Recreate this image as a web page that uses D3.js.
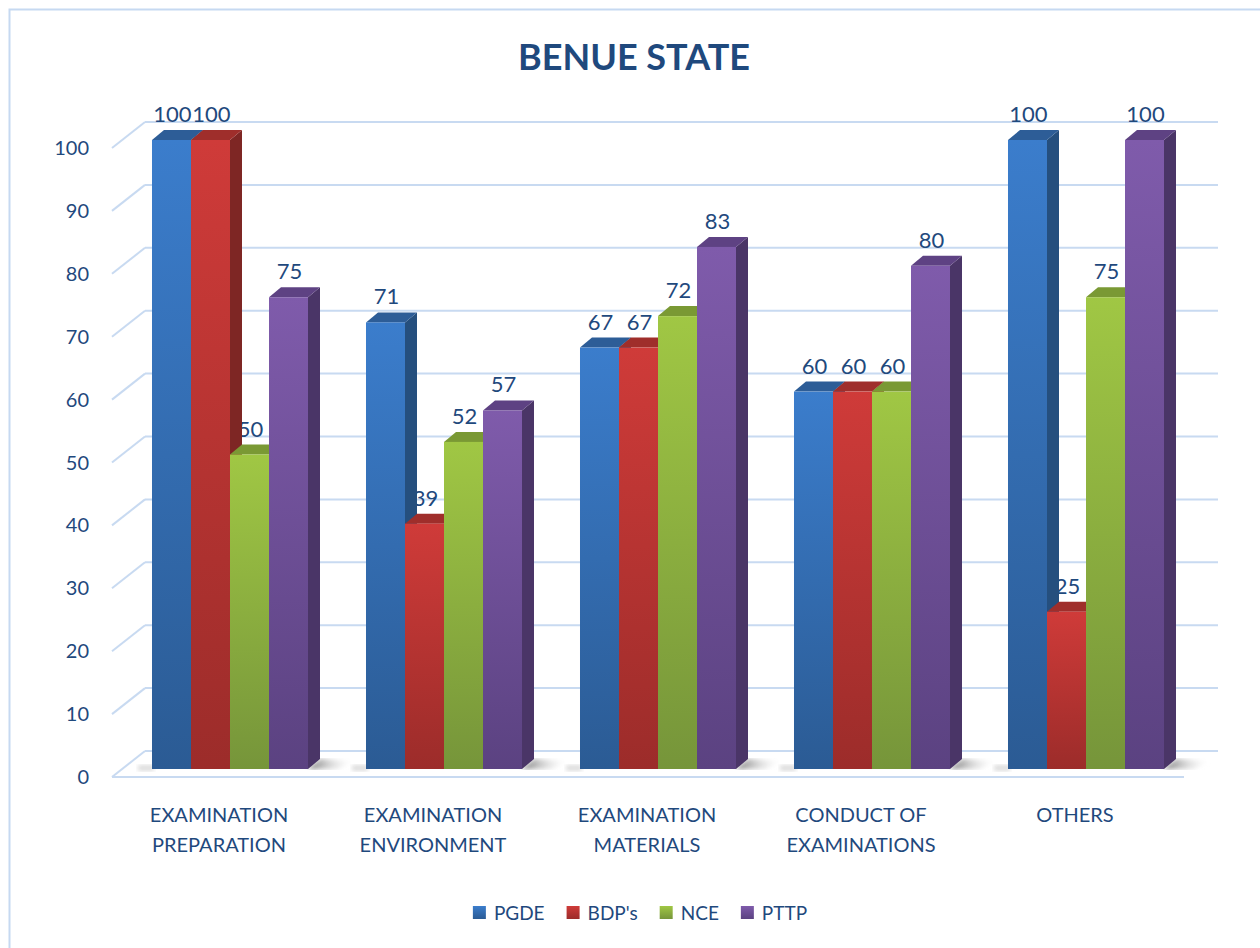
<!DOCTYPE html>
<html lang="en">
<head>
  <meta charset="UTF-8">
  <title>Benue State</title>
  <style>
    html, body {
      margin: 0;
      background: #fff;
      overflow: hidden;
      width: 100%;
      height: 100%;
    }
    svg {
      position: absolute;
      top: 0;
      left: 0;
      font-family: Lato, "Open Sans", sans-serif;
    }
  </style>
</head>
<body>
  <svg width="1260" height="948"></svg>
</body>
<script src="https://d3js.org/d3.v7.min.js"></script>
<script type="text/javascript">
  const categories = [
    ['EXAMINATION', 'PREPARATION'],
    ['EXAMINATION', 'ENVIRONMENT'],
    ['EXAMINATION', 'MATERIALS'],
    ['CONDUCT OF', 'EXAMINATIONS'],
    ['OTHERS']
  ]
  const series = ['PGDE', "BDP's", 'NCE', 'PTTP']
  const pgde = [100, 71, 67, 60, 100]
  const bdps = [100, 39, 67, 60, 25]
  const nce = [50, 52, 72, 60, 75]
  const pttp = [75, 57, 83, 80, 100]
  const yTicks = [0, 10, 20, 30, 40, 50, 60, 70, 80, 90, 100]

  const values = [pgde, bdps, nce, pttp]
  const colors = [
    { top: '#2d5d97', side: '#254f7e', light: '#3b7dcc', dark: '#2b5b94' },
    { top: '#9f2e2b', side: '#7e2624', light: '#cf3b39', dark: '#9c2c2a' },
    { top: '#7a9934', side: '#6b8830', light: '#a0c744', dark: '#76953a' },
    { top: '#5e4283', side: '#4a3567', light: '#7f5bab', dark: '#5b4281' }
  ]
  const textColor = '#1f497d'
  const gridColor = '#c8daf1'

  const svg = d3.select('svg')
  const defs = svg.append('defs')

  colors.forEach((c, i) => {
    const g = defs.append('linearGradient')
      .attr('id', 'grad' + i)
      .attr('x1', 0).attr('y1', 0).attr('x2', 0).attr('y2', 1)
    g.append('stop').attr('offset', '0%').attr('stop-color', c.light)
    g.append('stop').attr('offset', '100%').attr('stop-color', c.dark)
  })

  const sh = defs.append('linearGradient')
    .attr('id', 'shadow')
    .attr('x1', 0).attr('y1', 0).attr('x2', 1).attr('y2', 0)
  sh.append('stop').attr('offset', '0%').attr('stop-color', '#555').attr('stop-opacity', 0.8)
  sh.append('stop').attr('offset', '100%').attr('stop-color', '#fff').attr('stop-opacity', 0)

  defs.append('filter').attr('id', 'blur')
    .append('feGaussianBlur').attr('stdDeviation', 2)

  // outer frame
  svg.append('rect')
    .attr('x', 9.5).attr('y', 9.5)
    .attr('width', 1300).attr('height', 1000)
    .attr('fill', 'none')
    .attr('stroke', '#c6d9f1')
    .attr('stroke-width', 2)

  // scales: bars sit at mid depth, back wall and front edge are offset
  const y = d3.scaleLinear().domain([0, 100]).range([769, 140])
  const yBack = v => y(v) - 18
  const yFront = v => y(v) + 8
  const wallX = 145, frontX = 112, wallEnd = 1218, floorEnd = 1184

  const x0 = d3.scaleBand()
    .domain(d3.range(categories.length))
    .range([123, 1193])
    .paddingInner(0.271)
    .paddingOuter(0.1355)
  const x1 = d3.scaleBand()
    .domain(d3.range(series.length))
    .range([0, x0.bandwidth()])

  const depthX = 12, depthY = 10

  // grid
  const grid = svg.append('g')
  grid.selectAll('line.back')
    .data(yTicks)
    .enter()
    .append('line')
    .attr('x1', wallX).attr('x2', wallEnd)
    .attr('y1', d => yBack(d)).attr('y2', d => yBack(d))
    .attr('stroke', gridColor).attr('stroke-width', 2)
  grid.selectAll('line.side')
    .data(yTicks)
    .enter()
    .append('line')
    .attr('x1', frontX).attr('x2', wallX)
    .attr('y1', d => yFront(d)).attr('y2', d => yBack(d))
    .attr('stroke', gridColor).attr('stroke-width', 2)
  grid.append('line')
    .attr('x1', frontX).attr('x2', floorEnd)
    .attr('y1', yFront(0)).attr('y2', yFront(0))
    .attr('stroke', gridColor).attr('stroke-width', 2)

  // y tick labels
  svg.selectAll('text.tick')
    .data(yTicks)
    .enter()
    .append('text')
    .attr('x', 89)
    .attr('y', d => yFront(d))
    .attr('dy', '0.35em')
    .attr('text-anchor', 'end')
    .attr('fill', textColor)
    .style('font-size', '20px')
    .text(d => d)

  // floor shadows behind each group
  categories.forEach((c, ci) => {
    const xr = x0(ci) + x0.bandwidth()
    svg.append('polygon')
      .attr('points', [[xr, y(0)], [xr + depthX, y(0) - depthY], [xr + 48, y(0) - 8], [xr + 30, y(0)]].map(p => p.join(',')).join(' '))
      .attr('fill', 'url(#shadow)')
      .attr('filter', 'url(#blur)')
    svg.append('rect')
      .attr('x', x0(ci) - 14).attr('y', y(0) - 4)
      .attr('width', 16).attr('height', 6)
      .attr('fill', '#bbb').attr('opacity', 0.5)
      .attr('filter', 'url(#blur)')
  })

  // value labels (drawn below the bars, as in the original)
  series.forEach((s, si) => {
    svg.selectAll('text.val' + si)
      .data(values[si])
      .enter()
      .append('text')
      .attr('x', (d, ci) => x0(ci) + x1(si) + x1.bandwidth() / 2 + 1)
      .attr('y', d => y(d) - 18)
      .attr('text-anchor', 'middle')
      .attr('fill', textColor)
      .style('font-size', '22px')
      .text(d => d)
  })

  // bars
  categories.forEach((c, ci) => {
    series.forEach((s, si) => {
      const v = values[si][ci]
      const bx = x0(ci) + x1(si)
      const bw = x1.bandwidth()
      const top = y(v), bottom = y(0)
      const g = svg.append('g')
      g.append('polygon')
        .attr('points', [[bx + bw, top], [bx + bw + depthX, top - depthY], [bx + bw + depthX, bottom - depthY], [bx + bw, bottom]].map(p => p.join(',')).join(' '))
        .attr('fill', colors[si].side)
      g.append('polygon')
        .attr('points', [[bx, top], [bx + depthX, top - depthY], [bx + bw + depthX, top - depthY], [bx + bw, top]].map(p => p.join(',')).join(' '))
        .attr('fill', colors[si].top)
      g.append('rect')
        .attr('x', bx).attr('y', top)
        .attr('width', bw).attr('height', bottom - top)
        .attr('fill', 'url(#grad' + si + ')')
    })
  })

  // category labels
  categories.forEach((lines, ci) => {
    const t = svg.append('text')
      .attr('x', x0(ci) + x0.bandwidth() / 2 - 11)
      .attr('y', 822)
      .attr('text-anchor', 'middle')
      .attr('fill', textColor)
      .style('font-size', '20px')
    lines.forEach((l, li) => {
      t.append('tspan')
        .attr('x', x0(ci) + x0.bandwidth() / 2 - 11)
        .attr('dy', li === 0 ? 0 : 30)
        .text(l)
    })
  })

  // title
  svg.append('text')
    .attr('x', 634)
    .attr('y', 70)
    .attr('text-anchor', 'middle')
    .attr('fill', textColor)
    .style('font-size', '36px')
    .style('font-weight', 'bold')
    .text('BENUE STATE')

  // legend
  const legend = svg.append('g')
  let lx = 0
  series.forEach((s, si) => {
    const item = legend.append('g').attr('transform', 'translate(' + lx + ',0)')
    item.append('rect')
      .attr('x', 0).attr('y', -7)
      .attr('width', 13).attr('height', 13)
      .attr('fill', 'url(#grad' + si + ')')
    const t = item.append('text')
      .attr('x', 21).attr('y', 0)
      .attr('dy', '0.35em')
      .attr('fill', textColor)
      .style('font-size', '19px')
      .text(s)
    lx += 21 + t.node().getComputedTextLength() + 22
  })
  legend.attr('transform', 'translate(' + (640 - (lx - 22) / 2) + ',913)')
</script>
</html>
